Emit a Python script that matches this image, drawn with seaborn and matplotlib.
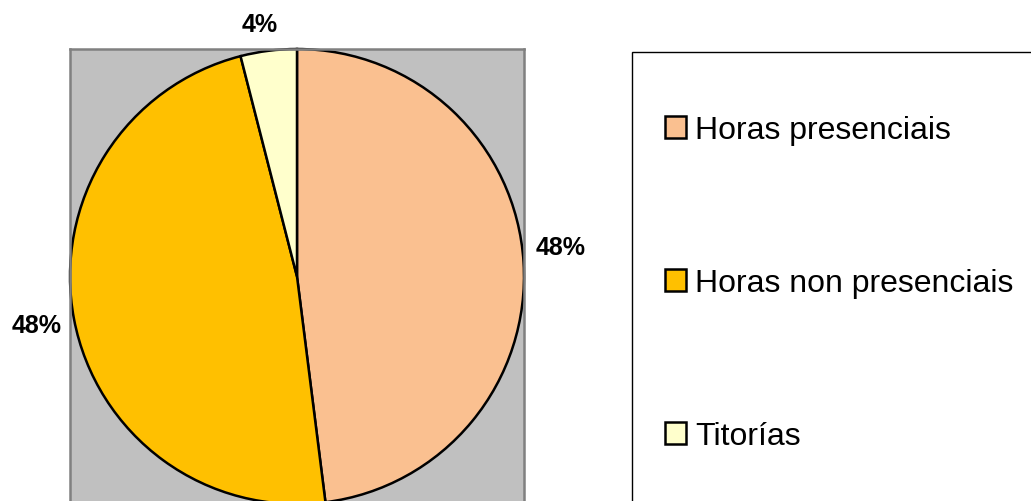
import matplotlib
matplotlib.use("Agg")
import matplotlib.pyplot as plt
from matplotlib.patches import Rectangle
import seaborn as sns

categories = ["Horas presenciais", "Horas non presenciais", "Titorías"]
values = [48, 48, 4]
colors = ["#FAC090", "#FFC000", "#FFFFCC"]
# label positions (data units relative to pie centre) as placed in the original
label_pos = [(1.163, 0.128), (-1.145, -0.211), (-0.163, 1.11)]

sns.set_style("white")
plt.rcParams["font.family"] = ["Liberation Sans", "DejaVu Sans"]
plt.rcParams["text.color"] = "black"

W, H = 1031, 502
fig = plt.figure(figsize=(W / 100, H / 100), dpi=100)

# Pie axes (gray plot area)
x0, y0, w, h = 70, 50, 454, 455
ax = fig.add_axes([x0 / W, (H - y0 - h) / H, w / W, h / H])
wedges, texts, autotexts = ax.pie(
    values, colors=colors, startangle=90, counterclock=False,
    autopct="%1.0f%%", pctdistance=1.15, radius=1.0,
    wedgeprops=dict(edgecolor="black", linewidth=1.8),
    textprops=dict(fontsize=18, fontweight="bold", color="black"),
)
for t, p in zip(autotexts, label_pos):
    t.set_position(p)
    t.set_clip_on(False)
ax.set_frame_on(True)
ax.set_facecolor("#C0C0C0")
ax.set_xlim(-1.0, 1.0)
ax.set_ylim(-1.0, 1.0)
ax.set_aspect("auto")
ax.set_xticks([])
ax.set_yticks([])
for s in ax.spines.values():
    s.set_visible(True)
    s.set_color("#808080")
    s.set_linewidth(1.8)

# Legend box
lx, ly = 632, 53
fig.patches.append(Rectangle((lx / W, -0.05), 1.1 - lx / W, (H - ly) / H + 0.05,
                             transform=fig.transFigure, fill=False,
                             edgecolor="black", linewidth=1.0))
leg = fig.legend(wedges, categories, loc="center left",
                 bbox_to_anchor=(665 / W, (H - 284) / H),
                 frameon=False, fontsize=23, labelspacing=3.85,
                 handlelength=0.66, handleheight=0.66, handletextpad=0.28,
                 borderaxespad=0, borderpad=0)
for hnd in leg.legend_handles:
    hnd.set_edgecolor("black")
    hnd.set_linewidth(1.8)
for t in leg.get_texts():
    t.set_color("black")

fig.savefig("out.png", dpi=100)
